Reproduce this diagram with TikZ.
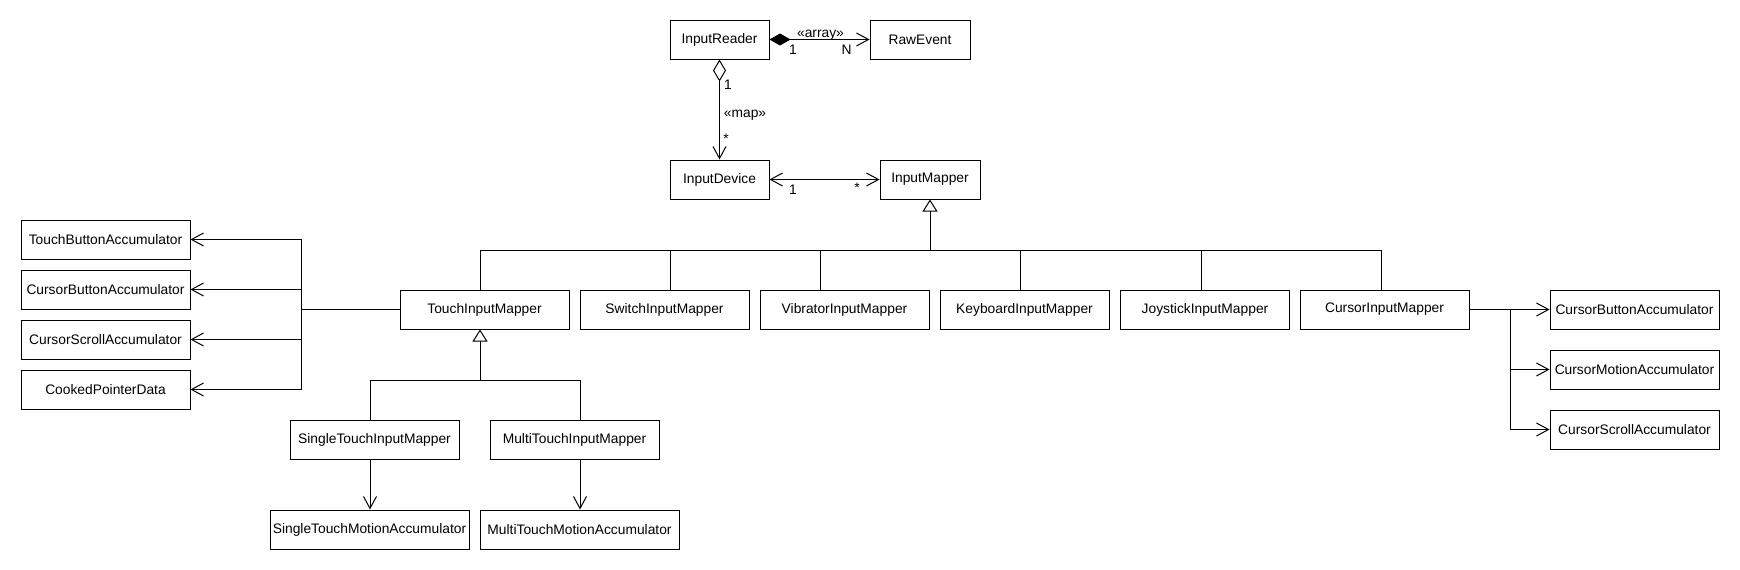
\documentclass[tikz,border=0pt]{standalone}
\usepackage{fontspec}
\setmainfont{Liberation Sans}
\usetikzlibrary{arrows.meta}
\tikzset{
  cls/.style={draw, line width=1pt, minimum height=39pt, inner sep=0pt, font=\fontsize{13.8}{16}\selectfont},
  lbl/.style={inner sep=0pt, anchor=base, font=\fontsize{13.8}{16}\selectfont},
  conn/.style={line width=1pt},
  dep/.style={conn, -{Straight Barb[length=12pt,width=13pt,line width=1pt]}},
  gen/.style={conn, {Triangle[open,length=12pt,width=15pt,line width=1pt,fill=white]}-},
}
\begin{document}
\begin{tikzpicture}[x=1pt,y=-1pt]
\fill[white] (0,0) rectangle (1740,570);
\useasboundingbox (0,0) rectangle (1740,570);

% top
\node[cls, minimum width=99pt]  (ir)   at (719.5,39.5)  {InputReader};
\node[cls, minimum width=100pt] (re)   at (920,39.5)    {RawEvent};
\node[cls, minimum width=99pt]  (idev) at (719.5,179.5) {InputDevice};
\node[cls, minimum width=100pt] (imap) at (930,179.5)   {InputMapper};

% mapper row
\node[cls, minimum width=169pt] (touch) at (484.5,309.5)  {TouchInputMapper};
\node[cls, minimum width=169pt] (sw)    at (664.5,309.5)  {SwitchInputMapper};
\node[cls, minimum width=169pt] (vib)   at (844.5,309.5)  {VibratorInputMapper};
\node[cls, minimum width=169pt] (kbd)   at (1024.5,309.5) {KeyboardInputMapper};
\node[cls, minimum width=169pt] (joy)   at (1205,309.5)   {JoystickInputMapper};
\node[cls, minimum width=169pt] (cur)   at (1384.5,309.5) {CursorInputMapper};

% left column
\node[cls, minimum width=169pt] (tba) at (105.5,239.5) {TouchButtonAccumulator};
\node[cls, minimum width=169pt] (cbl) at (105.5,289.5) {CursorButtonAccumulator};
\node[cls, minimum width=169pt] (csl) at (105.5,339.5) {CursorScrollAccumulator};
\node[cls, minimum width=169pt] (cpd) at (105.5,389.5) {CookedPointerData};

% right column
\node[cls, minimum width=169pt] (cbr) at (1634.5,309.5) {CursorButtonAccumulator};
\node[cls, minimum width=169pt] (cmr) at (1634.5,369.5) {CursorMotionAccumulator};
\node[cls, minimum width=169pt] (csr) at (1634.5,429.5) {CursorScrollAccumulator};

% touch subclasses
\node[cls, minimum width=169pt] (st)   at (374.5,439.5) {SingleTouchInputMapper};
\node[cls, minimum width=169pt] (mt)   at (574.5,439.5) {MultiTouchInputMapper};
\node[cls, minimum width=199pt] (stm)  at (369.5,529.5) {SingleTouchMotionAccumulator};
\node[cls, minimum width=199pt] (mtm)  at (579.5,529.5) {MultiTouchMotionAccumulator};

% junction coordinates
\coordinate (bM) at (930,250);
\coordinate (bT) at (480,250);
\coordinate (bS) at (670,250);
\coordinate (bV) at (820,250);
\coordinate (bK) at (1020,250);
\coordinate (bJ) at (1201,250);
\coordinate (bC) at (1381,250);
\coordinate (tT) at (480,380);
\coordinate (tS) at (370,380);
\coordinate (tM) at (580,380);
\coordinate (jL) at (301,309.5);
\coordinate (jR) at (1510,309.5);

% InputReader -> RawEvent (composition)
\draw[conn, {Diamond[length=21pt,width=12pt,line width=1pt]}-{Straight Barb[length=12pt,width=13pt,line width=1pt]}] (ir.east) -- (re.west);
\node[lbl] at (820.5,37) {«array»};
\node[lbl] at (793,54) {1};
\node[lbl] at (846.5,54) {N};

% InputReader -> InputDevice (aggregation)
\draw[conn, {Diamond[open,length=22pt,width=13pt,line width=1pt,fill=white]}-{Straight Barb[length=12pt,width=13pt,line width=1pt]}] (ir.south) -- (idev.north);
\node[lbl] at (728,89) {1};
\node[lbl] at (745,117.5) {«map»};
\node[lbl] at (726,143) {*};

% InputDevice <-> InputMapper
\draw[conn, {Straight Barb[length=12pt,width=13pt,line width=1pt]}-{Straight Barb[length=12pt,width=13pt,line width=1pt]}] (idev.east) -- (imap.west);
\node[lbl] at (793,194) {1};
\node[lbl] at (857,192) {*};

% generalization to InputMapper
\draw[gen] (imap.south -| bM) -- (bM);
\draw[conn] (bT) -- (bC);
\draw[conn] (bT) -- (touch.north -| bT);
\draw[conn] (bS) -- (sw.north -| bS);
\draw[conn] (bV) -- (vib.north -| bV);
\draw[conn] (bK) -- (kbd.north -| bK);
\draw[conn] (bJ) -- (joy.north -| bJ);
\draw[conn] (bC) -- (cur.north -| bC);

% generalization to TouchInputMapper
\draw[gen] (touch.south -| tT) -- (tT);
\draw[conn] (tS) -- (tM);
\draw[conn] (tS) -- (st.north -| tS);
\draw[conn] (tM) -- (mt.north -| tM);

% touch subclasses dependencies
\draw[dep] (st.south -| tS) -- (stm.north -| tS);
\draw[dep] (mt.south -| tM) -- (mtm.north -| tM);

% TouchInputMapper dependencies
\draw[conn] (touch.west) -- (jL);
\draw[dep] (jL) |- (tba.east);
\draw[dep] (jL) |- (cbl.east);
\draw[dep] (jL) |- (csl.east);
\draw[dep] (jL) |- (cpd.east);

% CursorInputMapper dependencies
\draw[conn] (cur.east) -- (jR);
\draw[dep] (jR) -- (cbr.west);
\draw[dep] (jR) |- (cmr.west);
\draw[dep] (jR) |- (csr.west);
\end{tikzpicture}
\end{document}
